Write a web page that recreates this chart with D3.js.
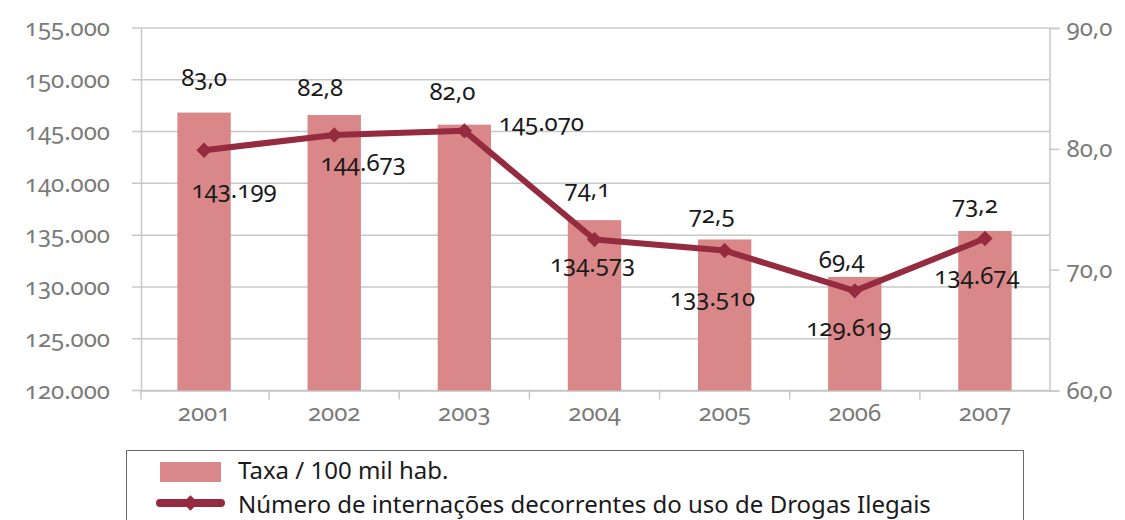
<!DOCTYPE html>
<html>
<head>
<meta charset="utf-8">
<script src="https://cdn.jsdelivr.net/npm/d3@7"></script>
<style>
  html, body { margin: 0; padding: 0; background: #fff; }
  svg { display: block; font-family: "Noto Sans", "Open Sans", sans-serif; font-feature-settings: "onum"; }
</style>
</head>
<body>
<svg id="chart" width="1125" height="520"></svg>
<script>
// ---- data ----
const years = ["2001", "2002", "2003", "2004", "2005", "2006", "2007"];
const taxa = [83.0, 82.8, 82.0, 74.1, 72.5, 69.4, 73.2];               // Taxa / 100 mil hab. (right axis)
const internacoes = [143199, 144673, 145070, 134573, 133510, 129619, 134674]; // Número de internações (left axis)
const leftTicks = [120000, 125000, 130000, 135000, 140000, 145000, 150000, 155000];
const rightTicks = [60, 70, 80, 90];
const seriesNames = ["Taxa / 100 mil hab.", "Número de internações decorrentes do uso de Drogas Ilegais"];

// label nudges (manual placements in the original)
const barLabelDx = [0, -14, -12, -7, -13, -13, -10];
const barLabelDy = [-36, -29, -34, -33, -26, -18, -28];
const lineLabelDx = [30, 29, 77, -2, -12, -6, -8];
const lineLabelDy = [38, 27, -9, 23, 46, 36, 36];

// ---- setup ----
const svg = d3.select("#chart");
const locale = d3.formatLocale({ decimal: ",", thousands: ".", grouping: [3], currency: ["", ""] });
const fmtInt = locale.format(",d");
const fmtDec = locale.format(".1f");

const barColor = "#d98788";
const lineColor = "#952b3f";
const gridColor = "#c8c8c8";
const axisTextColor = "#7a7a7a";

const plotTop = 28, plotBottom = 390.5;
const x = d3.scaleBand().domain(years).range([139, 1050]).padding(0);
const yL = d3.scaleLinear().domain([120000, 155000]).range([plotBottom, plotTop]);
const yR = d3.scaleLinear().domain([60, 90]).range([plotBottom, plotTop]);
const leftX = 141, rightX = 1049.5;
const cx = d => x(d) + x.bandwidth() / 2;

// gridlines
svg.append("g").selectAll("line").data(leftTicks).join("line")
  .attr("x1", leftX - 9).attr("x2", rightX)
  .attr("y1", d => yL(d)).attr("y2", d => yL(d))
  .attr("stroke", gridColor).attr("stroke-width", 1.5);

function styleAxis(g) {
  g.attr("font-family", null).attr("font-size", null);
  g.select(".domain").attr("stroke", gridColor).attr("stroke-width", 1.5);
  g.selectAll(".tick line").attr("stroke", gridColor).attr("stroke-width", 1.5);
  g.selectAll("text").attr("fill", axisTextColor).attr("font-size", 24);
}

// left axis
const gL = svg.append("g").attr("transform", `translate(${leftX},0)`)
  .call(d3.axisLeft(yL).tickValues(leftTicks).tickFormat(fmtInt).tickSize(0).tickPadding(31));
styleAxis(gL);

// right axis
const gR = svg.append("g").attr("transform", `translate(${rightX},0)`)
  .call(d3.axisRight(yR).tickValues(rightTicks).tickFormat(fmtDec).tickSize(10).tickPadding(7));
styleAxis(gR);

// bottom axis
const gB = svg.append("g").attr("transform", `translate(0,${plotBottom})`)
  .call(d3.axisBottom(x).tickSize(0).tickPadding(13));
styleAxis(gB);
// boundary ticks
const bounds = years.map(d => x(d)).concat([x.range()[1]]);
gB.selectAll(".bt").data(bounds.slice(1, -1)).join("line").attr("class", "bt")
  .attr("x1", d => d).attr("x2", d => d).attr("y1", 0).attr("y2", 9)
  .attr("stroke", gridColor).attr("stroke-width", 1.5);
gB.append("line").attr("x1", leftX).attr("x2", leftX).attr("y1", 0).attr("y2", 9)
  .attr("stroke", gridColor).attr("stroke-width", 1.5);

// bars
const barW = x.bandwidth() * 0.41;
svg.append("g").selectAll("rect").data(years).join("rect")
  .attr("x", d => cx(d) - barW / 2)
  .attr("width", barW)
  .attr("y", (d, i) => yR(taxa[i]))
  .attr("height", (d, i) => plotBottom - yR(taxa[i]))
  .attr("fill", barColor);

// line
const line = d3.line().x((d, i) => cx(years[i])).y(d => yL(d));
svg.append("path").datum(internacoes)
  .attr("d", line).attr("fill", "none")
  .attr("stroke", lineColor).attr("stroke-width", 6).attr("stroke-linejoin", "round");
const diamond = d3.symbol().type(d3.symbolDiamond2).size(150);
svg.append("g").selectAll("path").data(internacoes).join("path")
  .attr("d", diamond)
  .attr("transform", (d, i) => `translate(${cx(years[i])},${yL(d)})`)
  .attr("fill", lineColor);

// bar labels
svg.append("g").selectAll("text").data(taxa).join("text")
  .attr("x", (d, i) => cx(years[i]) + barLabelDx[i])
  .attr("y", (d, i) => yR(d) + barLabelDy[i])
  .attr("text-anchor", "middle").attr("dominant-baseline", "central")
  .attr("font-size", 24).attr("fill", "#1a1a1a")
  .text(d => fmtDec(d));

// line labels
svg.append("g").selectAll("text").data(internacoes).join("text")
  .attr("x", (d, i) => cx(years[i]) + lineLabelDx[i])
  .attr("y", (d, i) => yL(d) + lineLabelDy[i])
  .attr("text-anchor", "middle").attr("dominant-baseline", "central")
  .attr("font-size", 24).attr("fill", "#1a1a1a")
  .text(d => fmtInt(d));

// legend
const lg = svg.append("g");
lg.append("rect").attr("x", 126.5).attr("y", 450.5).attr("width", 897).attr("height", 100)
  .attr("fill", "#fff").attr("stroke", "#6b6b6b").attr("stroke-width", 1);
lg.append("rect").attr("x", 160).attr("y", 462).attr("width", 61).attr("height", 20).attr("fill", barColor);
lg.append("line").attr("x1", 160).attr("x2", 221).attr("y1", 503).attr("y2", 503)
  .attr("stroke", lineColor).attr("stroke-width", 8).attr("stroke-linecap", "round");
lg.append("path").attr("d", diamond).attr("transform", "translate(190.5,503)").attr("fill", lineColor);
lg.selectAll("text.leg").data(seriesNames).join("text").attr("class", "leg")
  .attr("x", 238).attr("y", (d, i) => 479 + i * 34)
  .attr("font-size", 24).attr("fill", "#1a1a1a")
  .style("font-feature-settings", "normal")
  .text(d => d);
</script>
</body>
</html>
